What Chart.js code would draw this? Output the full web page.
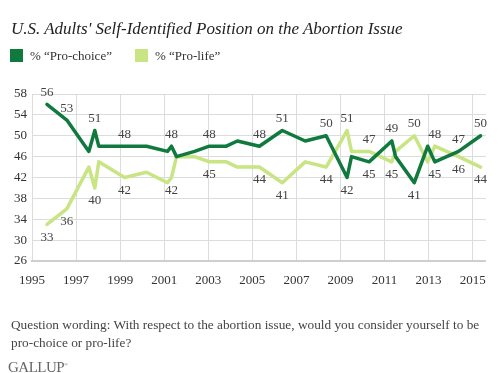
<!DOCTYPE html>
<html>
<head>
<meta charset="utf-8">
<script src="https://cdn.jsdelivr.net/npm/chart.js@4.4.0/dist/chart.umd.min.js"></script>
<style>
  html, body { margin: 0; padding: 0; background: #fff; }
  #wrap { position: relative; width: 498px; height: 373px; overflow: hidden; font-family: "Liberation Serif", serif; color: #333; }
  #chart { position: absolute; left: 0; top: 0; }
  .title { position: absolute; left: 11px; top: 19px; font-size: 17px; font-style: italic; color: #222; white-space: nowrap; }
  .legend { position: absolute; top: 48px; font-size: 13px; color: #333; white-space: nowrap; }
  .legend i { display: inline-block; width: 13px; height: 13px; vertical-align: -2px; margin-right: 7px; }
  .note { position: absolute; left: 11px; top: 316px; font-size: 13.3px; line-height: 18px; color: #444; width: 478px; }
  .logo { position: absolute; left: 8px; top: 359px; font-size: 15px; color: #666; letter-spacing: -0.5px; }
  .logo sup { font-size: 5px; }
</style>
</head>
<body>
<div id="wrap">
  <canvas id="chart" width="498" height="373"></canvas>
  <div class="title">U.S. Adults' Self-Identified Position on the Abortion Issue</div>
  <div class="legend" style="left:10px"><i style="background:#107a3e"></i>% “Pro-choice”</div>
  <div class="legend" style="left:135px"><i style="background:#c8e483"></i>% “Pro-life”</div>
  <div class="note">Question wording: With respect to the abortion issue, would you consider yourself to be<br>pro-choice or pro-life?</div>
  <div class="logo">GALLUP<sup>®</sup></div>
</div>
<script>
// survey dates (fractional years)
const dates = [1995.68, 1996.58, 1997.58, 1997.85, 1998.03, 1999.2, 2000.2, 2001.15, 2001.33, 2001.56,
    2002.38, 2003.05, 2003.82, 2004.32, 2005.32, 2006.36, 2007.4, 2008.35, 2009.3, 2009.5,
    2010.3, 2011.33, 2011.5, 2012.35, 2012.96, 2013.28, 2014.36, 2015.36];
const proChoice = [56, 53, 47, 51, 48, 48, 48, 47, 48, 46, 47, 48, 48, 49, 48, 51, 49, 50, 42, 46, 45, 49, 46, 41, 48, 45, 47, 50];
const proLife = [33, 36, 44, 40, 45, 42, 43, 41, 42, 46, 46, 45, 45, 44, 44, 41, 45, 44, 51, 47, 47, 45, 47, 50, 45, 48, 46, 44];
// where a value label is shown: a = above, b = below
const choiceLabels = ['a','a','','a','','a','','','a','','','a','','','a','a','','a','b','','b','a','','b','','b','a','a'];
const lifeLabels = ['b','b','','b','','b','','','b','','','b','','','b','b','','b','a','','a','b','','a','','a','b','b'];
const xTicks = [1995, 1997, 1999, 2001, 2003, 2005, 2007, 2009, 2011, 2013, 2015];
const yTicks = [26, 30, 34, 38, 42, 46, 50, 54, 58];

const darkGreen = '#107a3e';
const lightGreen = '#c8e483';

const valueLabels = {
    id: 'valueLabels',
    afterDatasetsDraw(chart) {
        const ctx = chart.ctx;
        const xs = chart.scales.x, ys = chart.scales.y;
        ctx.save();
        ctx.font = '13px "Liberation Serif"';
        ctx.fillStyle = '#444';
        ctx.textAlign = 'center';
        ctx.textBaseline = 'middle';
        [[proChoice, choiceLabels], [proLife, lifeLabels]].forEach(([vals, pos]) => {
            vals.forEach((v, i) => {
                if (!pos[i]) return;
                const px = xs.getPixelForValue(dates[i]);
                const py = ys.getPixelForValue(v) + (pos[i] === 'a' ? -12 : 13);
                ctx.fillText(String(v), px, py);
            });
        });
        ctx.restore();
    }
};

new Chart(document.getElementById('chart'), {
    type: 'line',
    data: {
        datasets: [{
            label: '% “Pro-choice”',
            data: dates.map((d, i) => ({ x: d, y: proChoice[i] })),
            borderColor: darkGreen,
            borderWidth: 3.5,
            pointRadius: 0,
            tension: 0,
            borderJoinStyle: 'round',
            borderCapStyle: 'round'
        }, {
            label: '% “Pro-life”',
            data: dates.map((d, i) => ({ x: d, y: proLife[i] })),
            borderColor: lightGreen,
            borderWidth: 3.5,
            pointRadius: 0,
            tension: 0,
            borderJoinStyle: 'round',
            borderCapStyle: 'round'
        }]
    },
    options: {
        responsive: false,
        animation: false,
        layout: { padding: { left: 0, right: 11, top: 94, bottom: 77 } },
        plugins: { legend: { display: false }, tooltip: { enabled: false } },
        scales: {
            x: {
                type: 'linear',
                min: 1995,
                max: 2015.6,
                afterBuildTicks: s => { s.ticks = xTicks.map(v => ({ value: v })); },
                afterFit: s => { s.height = 35; },
                ticks: { callback: v => String(v), padding: 12, color: '#333', font: { family: 'Liberation Serif', size: 13 }, maxRotation: 0 },
                grid: { color: '#dcdcdc', drawTicks: false },
                border: { color: '#cfcfcf', width: 2 }
            },
            y: {
                min: 26,
                max: 58,
                afterBuildTicks: s => { s.ticks = yTicks.map(v => ({ value: v })); },
                afterFit: s => { s.width = 32; },
                ticks: { padding: 5, color: '#333', font: { family: 'Liberation Serif', size: 13 } },
                grid: { color: '#dcdcdc', drawTicks: false },
                border: { display: false }
            }
        }
    },
    plugins: [valueLabels]
});
</script>
</body>
</html>
